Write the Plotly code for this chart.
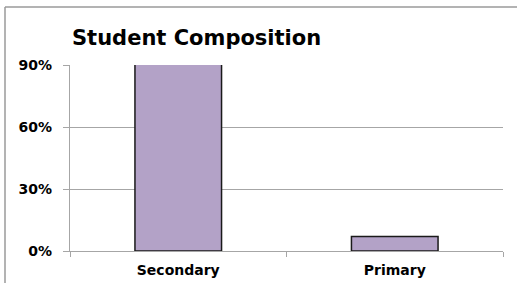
import plotly.graph_objects as go

categories = ["Secondary", "Primary"]
values = [0.95, 0.07]
tick_vals = [0, 0.3, 0.6, 0.9]
tick_text = ["0%", "30%", "60%", "90%"]

W, H = 517, 283
L, R, T, B = 70, 14, 65, 32
FONT = "DejaVu Sans"

fig = go.Figure(go.Bar(
    x=categories, y=values,
    marker=dict(color="#B3A2C7", line=dict(color="#1a1a1a", width=1.5)),
    width=0.4,
))

pw = W - L - R
ph = H - T - B
fx = (5 - L) / pw
fy = (H - B - 7) / ph
fig.add_shape(type="line", xref="paper", yref="paper", x0=fx, x1=fx, y0=fy, y1=-B / ph,
              line=dict(color="#9a9a9a", width=1.5))
fig.add_shape(type="line", xref="paper", yref="paper", x0=fx, x1=(W - L) / pw, y0=fy, y1=fy,
              line=dict(color="#9a9a9a", width=1.5))

fig.update_layout(
    width=W, height=H,
    margin=dict(l=L, r=R, t=T, b=B),
    paper_bgcolor="white", plot_bgcolor="white",
    showlegend=False,
    title=dict(text="<b>Student Composition</b>", x=72 / W, xanchor="left",
               y=1 - 38 / H, yanchor="middle",
               font=dict(family=FONT, size=21, color="black")),
    font=dict(family=FONT, color="black"),
)
fig.update_yaxes(range=[0, 0.9], tickvals=tick_vals, ticktext=tick_text,
                 showgrid=True, gridcolor="#a6a6a6", gridwidth=1.2,
                 showline=True, linecolor="#a6a6a6", linewidth=1.2,
                 ticks="outside", ticklen=6, tickcolor="#a6a6a6",
                 ticklabelstandoff=8,
                 tickfont=dict(family=FONT, size=14, color="black", weight="bold"),
                 zeroline=False, automargin=False)
fig.update_xaxes(showline=True, linecolor="#a6a6a6", linewidth=1.2,
                 ticks="outside", ticklen=5, tickcolor="#a6a6a6", tickson="boundaries",
                 ticklabelstandoff=6,
                 tickfont=dict(family=FONT, size=14, color="black", weight="bold"),
                 automargin=False)

fig.write_html("out.html", config={"displayModeBar": False},
               post_script="document.body.style.margin='0';document.body.style.overflow='hidden';")
